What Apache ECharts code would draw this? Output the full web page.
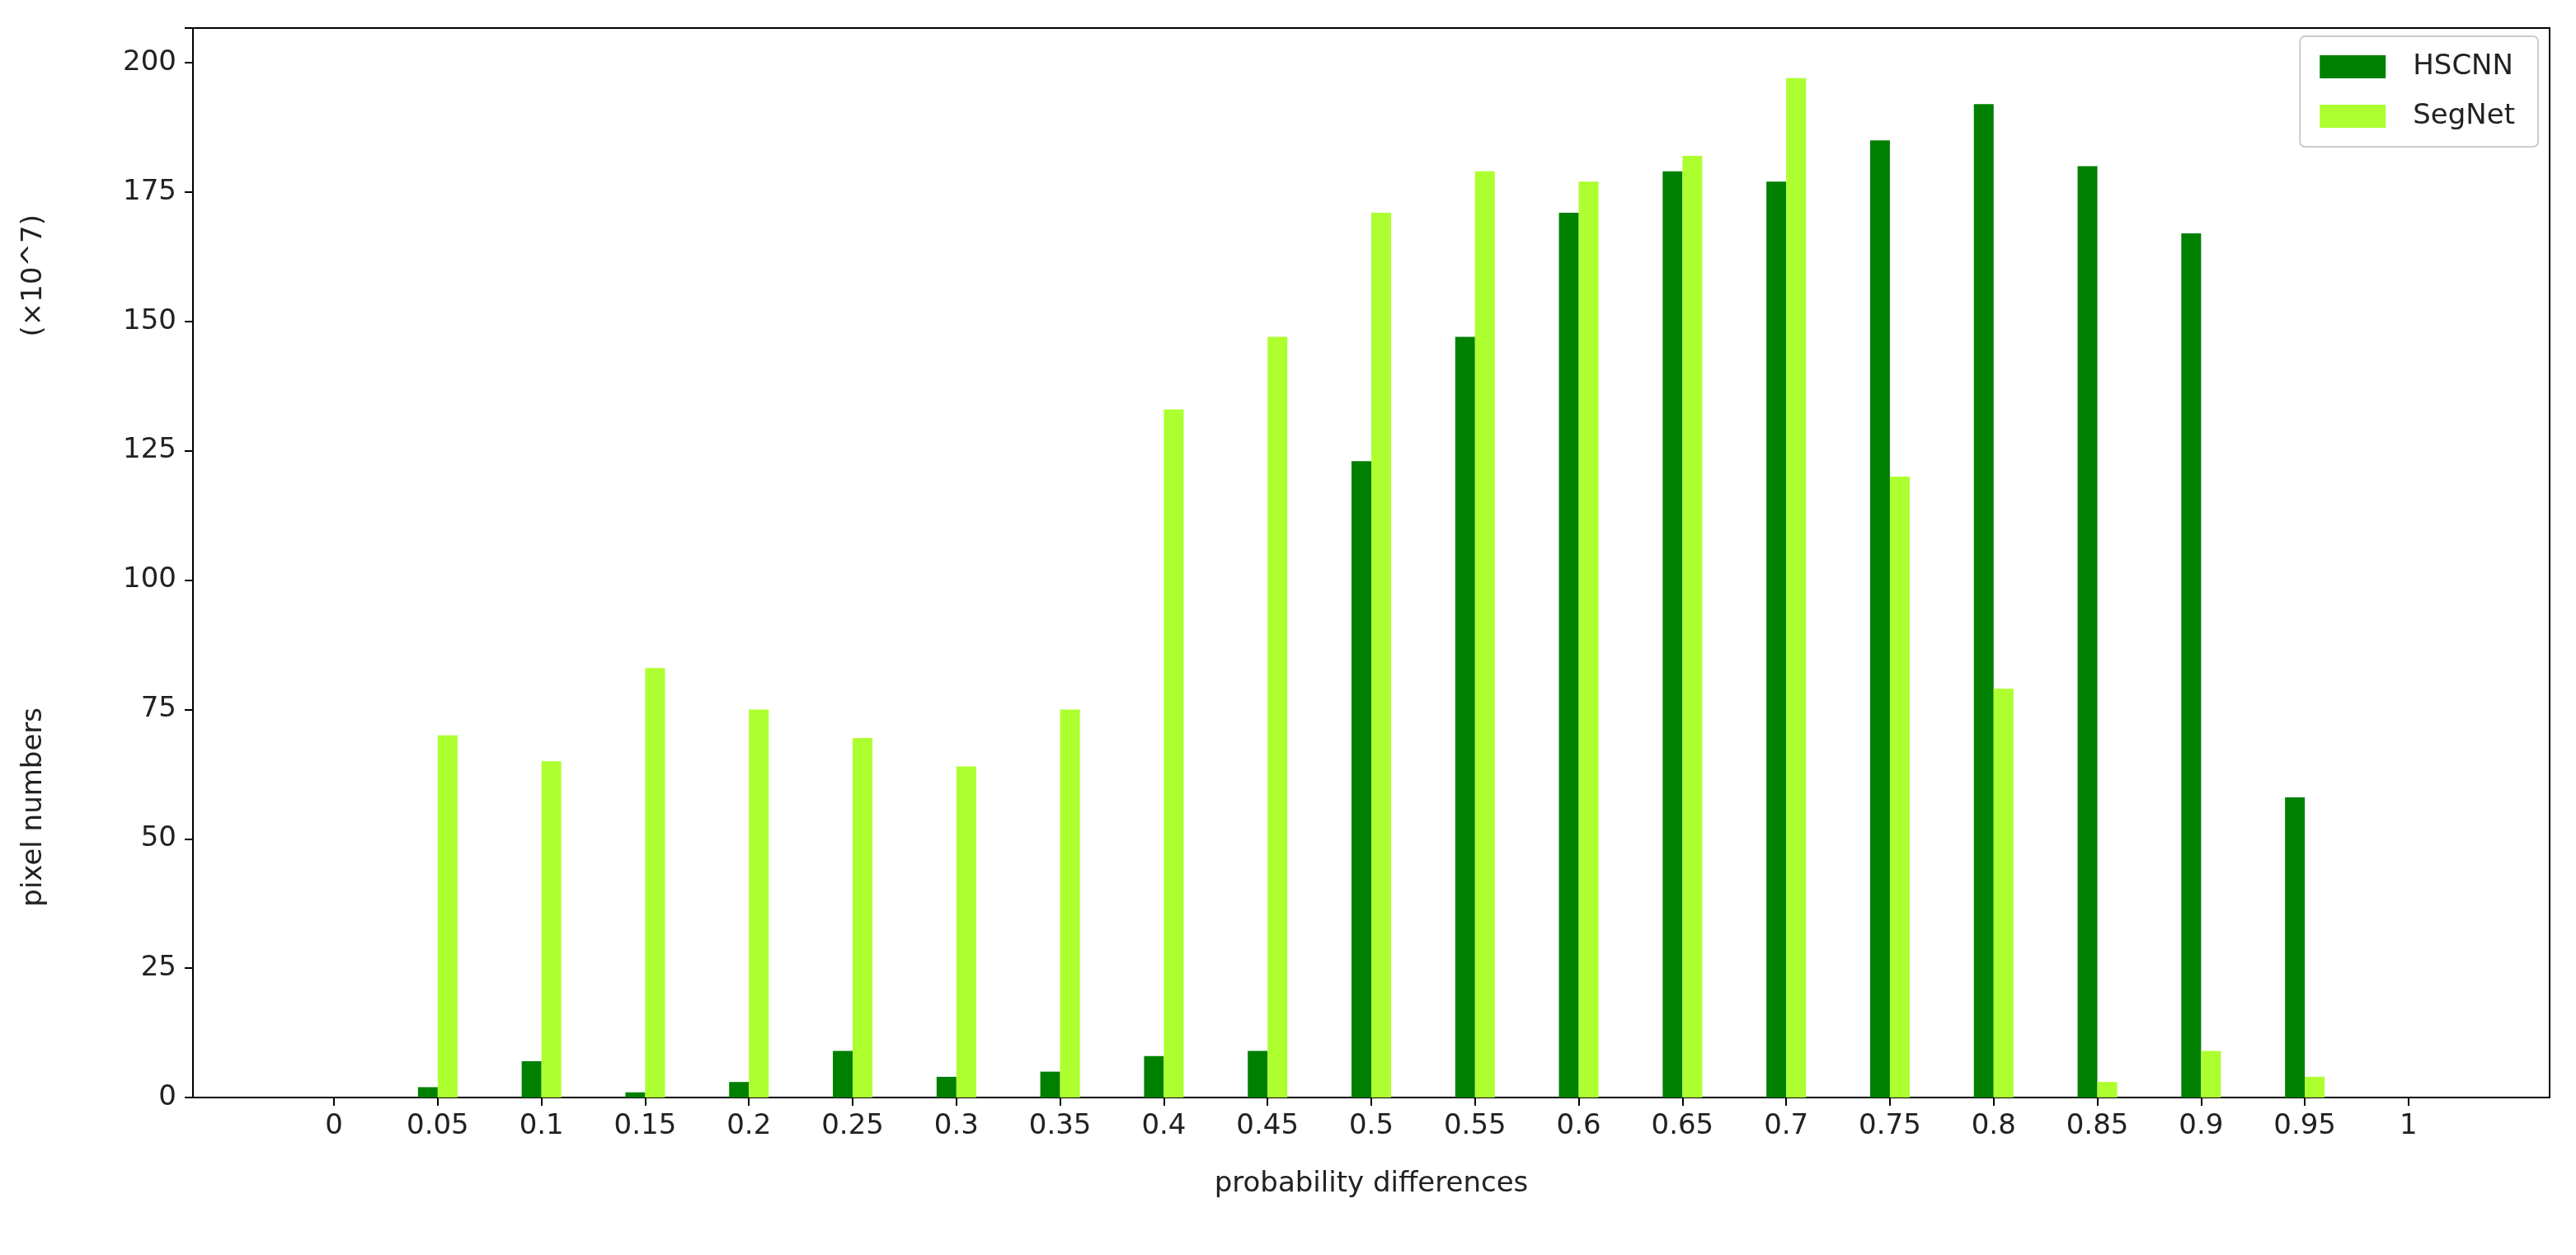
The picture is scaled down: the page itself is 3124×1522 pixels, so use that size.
<!DOCTYPE html>
<html>
<head>
<meta charset="utf-8">
<script src="https://cdn.jsdelivr.net/npm/echarts@6/dist/echarts.min.js"></script>
<style>html,body{margin:0;padding:0;background:#fff}#c{width:3124px;height:1522px}</style>
</head>
<body>
<div id="c"></div>
<script>
// bin positions and tick labels
const bins = [0, 0.05, 0.1, 0.15, 0.2, 0.25, 0.3, 0.35, 0.4, 0.45, 0.5, 0.55, 0.6, 0.65, 0.7, 0.75, 0.8, 0.85, 0.9, 0.95, 1];
const binLabels = ['0', '0.05', '0.1', '0.15', '0.2', '0.25', '0.3', '0.35', '0.4', '0.45', '0.5', '0.55', '0.6', '0.65', '0.7', '0.75', '0.8', '0.85', '0.9', '0.95', '1'];
// pixel numbers (x10^7)
const hscnn = [0, 2, 7, 1, 3, 9, 4, 5, 8, 9, 123, 147, 171, 179, 177, 185, 192, 180, 167, 58, 0];
const segnet = [0, 70, 65, 83, 75, 69.5, 64, 75, 133, 147, 171, 179, 177, 182, 197, 120, 79, 3, 9, 4, 0];

const font = 'DejaVu Sans';
const chart = echarts.init(document.getElementById('c'));
const pair = (vals) => bins.map((b, i) => [b, vals[i]]);

chart.setOption({
	animation: false,
	textStyle: { fontFamily: font, color: '#222' },
	grid: { left: 234, right: 32, top: 34, bottom: 191, show: true, borderColor: '#000', borderWidth: 2 },
	legend: {
		orient: 'vertical', right: 46, top: 44,
		icon: 'rect', itemWidth: 80, itemHeight: 28, itemGap: 26,
		padding: [20, 28, 20, 24],
		borderColor: '#ccc', borderWidth: 2, borderRadius: 6,
		textStyle: { fontSize: 34, color: '#222', fontFamily: font, padding: [0, 0, 0, 28] },
		data: ['HSCNN', 'SegNet']
	},
	xAxis: {
		type: 'value', min: -0.068, max: 1.068,
		name: 'probability differences', nameLocation: 'middle', nameGap: 88,
		nameTextStyle: { fontSize: 34, color: '#222' },
		splitLine: { show: false },
		axisLine: { onZero: false, lineStyle: { color: '#000', width: 2 } },
		axisTick: { inside: false, customValues: bins, length: 10, lineStyle: { color: '#000', width: 2 } },
		axisLabel: {
			customValues: bins, fontSize: 34, color: '#222', margin: 18,
			formatter: v => { const i = bins.findIndex(b => Math.abs(b - v) < 1e-6); return i < 0 ? '' : binLabels[i]; }
		}
	},
	yAxis: {
		type: 'value', min: 0, max: 206.7, interval: 25,
		splitLine: { show: false },
		axisLine: { show: true, onZero: false, lineStyle: { color: '#000', width: 2 } },
		axisTick: { show: true, inside: false, length: 10, lineStyle: { color: '#000', width: 2 } },
		axisLabel: { fontSize: 34, color: '#222', margin: 20, formatter: v => (v % 25 === 0 ? String(v) : '') }
	},
	graphic: [
		{ type: 'text', left: 24, top: 858, rotation: Math.PI / 2, style: { text: 'pixel numbers', fontSize: 34, fill: '#222', fontFamily: font } },
		{ type: 'text', left: 24, top: 260, rotation: Math.PI / 2, style: { text: '(×10^7)', fontSize: 34, fill: '#222', fontFamily: font } }
	],
	series: [
		{ name: 'HSCNN', type: 'bar', barWidth: 24, barGap: '0%', itemStyle: { color: '#008000' }, data: pair(hscnn) },
		{ name: 'SegNet', type: 'bar', barWidth: 24, barGap: '0%', itemStyle: { color: '#adff2f' }, data: pair(segnet) }
	]
});
</script>
</body>
</html>
